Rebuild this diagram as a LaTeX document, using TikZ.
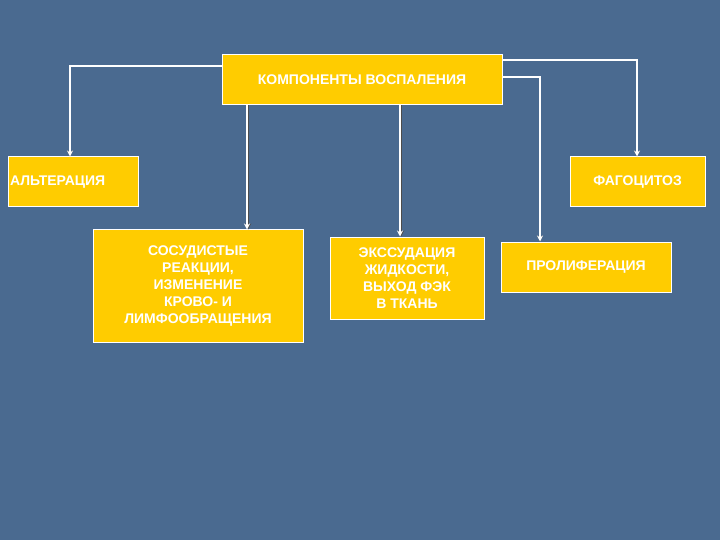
\documentclass[tikz,border=0pt]{standalone}
\usepackage{fontspec}
\setmainfont{Liberation Sans}
\usetikzlibrary{arrows.meta}
\definecolor{bgblue}{HTML}{4A6A90}
\definecolor{boxy}{HTML}{FFCC00}
\tikzset{
  box/.style={draw=white,line width=1pt,fill=boxy,text=white,font=\bfseries\fontsize{14}{17}\selectfont,align=center,inner sep=1pt},
  conn/.style={draw=white,line width=1.6pt,-{Stealth[length=6pt,width=6pt]}},
  shadow/.style={draw=black!70,line width=1.6pt,-{Stealth[length=6pt,width=6pt]},shift={(1.2pt,-1.2pt)}}
}
\begin{document}
\begin{tikzpicture}[x=1pt,y=-1pt]
\fill[bgblue] (0,0) rectangle (720,540);
\node[box,minimum width=280,minimum height=50] (top) at (362,80) {КОМПОНЕНТЫ ВОСПАЛЕНИЯ};
\node[box,minimum width=130,minimum height=50,text width=126,align=left] (alt) at (73,182) {АЛЬТЕРАЦИЯ};
\node[box,minimum width=135,minimum height=50] (fag) at (637.5,182) {ФАГОЦИТОЗ};
\node[box,minimum width=210,minimum height=112] (sos) at (198,286) {СОСУДИСТЫЕ\\РЕАКЦИИ,\\ИЗМЕНЕНИЕ\\КРОВО- И\\ЛИМФООБРАЩЕНИЯ};
\node[box,minimum width=154,minimum height=82] (eks) at (407,278) {ЭКССУДАЦИЯ\\ЖИДКОСТИ,\\ВЫХОД ФЭК\\В ТКАНЬ};
\node[box,minimum width=170,minimum height=50] (pro) at (586,267) {ПРОЛИФЕРАЦИЯ};
\coordinate (c1) at (70,66); \coordinate (c2) at (637,60); \coordinate (c3) at (540,77);
\foreach \s in {shadow,conn}{
 \draw[\s] (top.west |- c1) -- (c1) -- (c1 |- alt.north);
 \draw[\s] (top.east |- c2) -- (c2) -- (c2 |- fag.north);
 \draw[\s] (top.east |- c3) -- (c3) -- (c3 |- pro.north);
 \draw[\s] (top.south -| 247,0) -- (sos.north -| 247,0);
 \draw[\s] (top.south -| 400,0) -- (eks.north -| 400,0);
}
\end{tikzpicture}
\end{document}
